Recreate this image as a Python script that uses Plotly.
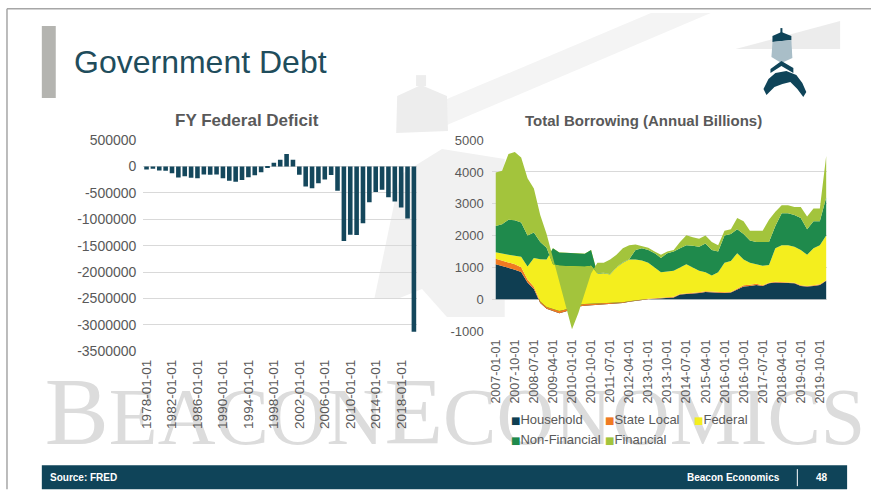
import plotly.graph_objects as go

W, H = 871, 495
# the page is photographed slightly squeezed vertically; compensate placement
Y_SCALE, Y_OFF = 0.9676, 8.9


def px(x):
    return x / W


def py(y):
    return 1 - ((y - Y_OFF) / Y_SCALE) / H


# ---------------- Left chart data: FY Federal Deficit ----------------
years = list(range(1978, 2021))
deficit = [-59185, -40726, -73830, -78968, -127977, -207802, -185367, -212308,
           -221227, -149730, -155178, -152639, -221036, -269238, -290321, -255051,
           -203186, -163952, -107431, -21884, 69270, 125610, 236241, 128236,
           -157758, -377585, -412727, -318346, -248181, -160701, -458553, -1412688,
           -1294373, -1299599, -1076573, -679775, -484602, -441960, -584651, -665446,
           -779137, -983600, -3131900]
left_tickvals = [1978, 1982, 1986, 1990, 1994, 1998, 2002, 2006, 2010, 2014, 2018]
left_ticktext = ["1978-01-01", "1982-01-01", "1986-01-01", "1990-01-01", "1994-01-01",
                 "1998-01-01", "2002-01-01", "2006-01-01", "2010-01-01", "2014-01-01",
                 "2018-01-01"]
left_yvals = [500000, 0, -500000, -1000000, -1500000, -2000000, -2500000, -3000000, -3500000]
left_ytext = ["500000", "0", "-500000", "-1000000", "-1500000", "-2000000", "-2500000",
              "-3000000", "-3500000"]

# ---------------- Right chart data: Total Borrowing ----------------
quarters = ["2007-01-01", "2007-04-01", "2007-07-01", "2007-10-01",
            "2008-01-01", "2008-04-01", "2008-07-01", "2008-10-01",
            "2009-01-01", "2009-04-01", "2009-07-01", "2009-10-01",
            "2010-01-01", "2010-04-01", "2010-07-01", "2010-10-01",
            "2011-01-01", "2011-04-01", "2011-07-01", "2011-10-01",
            "2012-01-01", "2012-04-01", "2012-07-01", "2012-10-01",
            "2013-01-01", "2013-04-01", "2013-07-01", "2013-10-01",
            "2014-01-01", "2014-04-01", "2014-07-01", "2014-10-01",
            "2015-01-01", "2015-04-01", "2015-07-01", "2015-10-01",
            "2016-01-01", "2016-04-01", "2016-07-01", "2016-10-01",
            "2017-01-01", "2017-04-01", "2017-07-01", "2017-10-01",
            "2018-01-01", "2018-04-01", "2018-07-01", "2018-10-01",
            "2019-01-01", "2019-04-01", "2019-07-01", "2019-10-01",
            "2020-01-01"]
household = [1100, 1050, 980, 930, 860, 530, 320, -120, -300, -370, -440, -380, -300,
             -230, -200, -190, -170, -160, -160, -150, -120, -80, -50, -20, 0, 15, 30,
             40, 60, 150, 160, 180, 200, 230, 220, 200, 200, 210, 300, 400, 420, 450,
             420, 500, 530, 520, 520, 500, 420, 400, 420, 450, 580]
state_local = [170, 170, 170, 170, 150, 90, 70, 50, 60, 70, 70, 60, 60, 50, 50, 50, 40,
               40, 30, 30, 30, 20, 20, 20, 20, 20, 20, 20, 20, 20, 20, 20, 20, 20, 20,
               20, 20, 20, 40, 40, 40, 40, 20, 20, 20, 20, 20, 20, 20, 20, 20, 20, 20]
federal = [210, 210, 250, 270, 330, 410, 910, 1330, 1490, 1900, 1840, 1780, 1690, 1620,
           1580, 1690, 930, 940, 910, 1120, 1240, 1310, 1280, 1220, 1130, 965, 800, 810,
           820, 830, 920, 800, 680, 600, 510, 630, 930, 970, 1110, 810, 690, 610, 610,
           560, 1050, 1160, 1160, 1130, 1110, 980, 1160, 1230, 1400]
non_financial = [820, 930, 1100, 1110, 1070, 970, 800, 540, 370, -500, -420, -420, -410,
                 -410, -410, -500, 20, 10, 10, 10, 10, 10, 300, 380, 400, 450, 450, 580,
                 600, 600, 600, 680, 750, 900, 800, 650, 850, 850, 750, 800, 700, 700,
                 750, 720, 700, 1000, 1000, 1000, 1000, 800, 850, 750, 1200]
financial = [1680, 1680, 2060, 2150, 2040, 1800, 1380, 850, 430, 200, -450, -1180,
             -1980, -1460, -830, -240, 330, 320, 460, 390, 440, 440, 170, 80, 70, 50,
             100, 50, 50, 200, 310, 270, 250, 250, 250, 200, 150, 150, 350, 400, 300,
             350, 350, 700, 450, 250, 250, 250, 350, 400, 400, 400, 1300]
right_tickvals = quarters[::3]
right_yvals = [5000, 4000, 3000, 2000, 1000, 0, -1000]
right_ytext = ["5000", "4000", "3000", "2000", "1000", "0", "-1000"]

series_names = ["Household", "State Local", "Federal", "Non-Financial", "Financial"]
series_values = [household, state_local, federal, non_financial, financial]
series_colors = ["#0f3e52", "#f07a22", "#f4ee1e", "#1f8a4c", "#a3c43c"]

FONT = "Liberation Sans"
GRAY = "#595959"
TEAL = "#0f4459"

fig = go.Figure()

fig.add_trace(go.Bar(x=years, y=deficit, marker=dict(color="#14475c", line=dict(width=0)),
                     width=0.72, xaxis="x", yaxis="y", showlegend=False))

for name, vals, col in zip(series_names, series_values, series_colors):
    fig.add_trace(go.Scatter(x=quarters, y=vals, name=name, stackgroup="borrow",
                             mode="lines", line=dict(width=0, color=col),
                             fillcolor=col, xaxis="x2", yaxis="y2", showlegend=False))


def poly(points, color, layer="above"):
    d = "M " + " L ".join("{},{}".format(px(a), py(b)) for a, b in points) + " Z"
    return dict(type="path", xref="paper", yref="paper", path=d, fillcolor=color,
                line=dict(width=0), layer=layer)


shapes = []
# faint background lighthouse watermark
shapes.append(poly([(445, 100), (650, 14), (710, 14), (445, 126)], "#f4f4f4", "below"))
shapes.append(poly([(414, 76), (424, 76), (424, 87), (414, 87)], "#ededed", "below"))
shapes.append(poly([(395, 97), (419, 86), (445, 97), (446, 132), (394, 134)], "#ededed", "below"))
shapes.append(poly([(372, 300), (398, 176), (440, 150), (503, 160), (503, 318), (445, 318),
                    (420, 290), (395, 300)], "#f1f1f1", "below"))
# slide border
shapes.append(dict(type="line", xref="paper", yref="paper", x0=px(3), x1=1, y0=py(9.6), y1=py(9.6),
                   line=dict(color="#a6a6a6", width=1.5), layer="below"))
shapes.append(dict(type="line", xref="paper", yref="paper", x0=px(3), x1=px(3), y0=py(9.6), y1=py(490),
                   line=dict(color="#a6a6a6", width=1.5), layer="below"))
# title bar
shapes.append(dict(type="rect", xref="paper", yref="paper", x0=px(38), x1=px(52), y0=py(99),
                   y1=py(27), fillcolor="#b4b4b0", line=dict(width=0), layer="below"))
# watermark text (small caps look)
shapes.append(dict(type="rect", xref="paper", yref="paper", x0=px(38), x1=px(862), y0=py(472),
                   y1=py(372), fillcolor="rgba(0,0,0,0)", line=dict(width=0), layer="below",
                   label=dict(text="<span style='font-size:96px'>B</span>EACON"
                                   "<span style='font-size:96px'>E</span>CONOMICS",
                              textposition="bottom left", padding=0,
                              font=dict(family="Liberation Serif", size=80, color="#dcdcdc"))))
# logo beam
shapes.append(poly([(735, 50), (840, 22), (840, 50)], "rgba(200,200,200,0.35)", "below"))
# logo
shapes.append(poly([(780, 29), (782, 29), (782, 34), (780, 34)], TEAL))
shapes.append(poly([(772, 37), (781, 33), (791, 37), (791, 41), (772, 43)], TEAL))
shapes.append(poly([(772, 43), (791, 41), (792, 59), (781, 64), (771, 58)], "#a9bec8"))
shapes.append(poly([(770, 70), (781, 62), (793, 69), (793, 74), (781, 67), (770, 74)], TEAL))
shapes.append(poly([(763, 90), (768, 80), (775, 74), (786, 72), (796, 76), (802, 84), (806, 93),
                    (803, 98), (797, 90), (790, 83), (782, 85), (774, 88), (766, 96)], TEAL))
# footer
shapes.append(dict(type="rect", xref="paper", yref="paper", x0=px(38), x1=px(847), y0=py(490),
                   y1=py(466), fillcolor=TEAL, line=dict(width=0), layer="above"))
shapes.append(dict(type="line", xref="paper", yref="paper", x0=px(797), x1=px(797), y0=py(487),
                   y1=py(470), line=dict(color="white", width=1), layer="above"))

annotations = []
annotations.append(dict(x=px(68), y=py(63), xref="paper", yref="paper", xanchor="left",
                        yanchor="middle", text="Government Debt", showarrow=False,
                        font=dict(family=FONT, size=32, color="#1f4d5c")))
annotations.append(dict(x=px(244), y=py(121), xref="paper", yref="paper", xanchor="center",
                        yanchor="middle", text="<b>FY Federal Deficit</b>", showarrow=False,
                        font=dict(family=FONT, size=17, color=GRAY)))
annotations.append(dict(x=px(642), y=py(121), xref="paper", yref="paper", xanchor="center",
                        yanchor="middle", text="<b>Total Borrowing (Annual Billions)</b>",
                        showarrow=False, font=dict(family=FONT, size=15, color=GRAY)))
annotations.append(dict(x=px(44), y=py(478), xref="paper", yref="paper", xanchor="left",
                        yanchor="middle", text="<b>Source: FRED</b>", showarrow=False,
                        font=dict(family=FONT, size=10, color="white")))
annotations.append(dict(x=px(782), y=py(478), xref="paper", yref="paper", xanchor="right",
                        yanchor="middle", text="<b>Beacon Economics</b>", showarrow=False,
                        font=dict(family=FONT, size=10, color="white")))
annotations.append(dict(x=px(822), y=py(478), xref="paper", yref="paper", xanchor="center",
                        yanchor="middle", text="<b>48</b>", showarrow=False,
                        font=dict(family=FONT, size=10, color="white")))

# legend (manual, two rows)
legend_pos = [(507, 420), (602, 420), (691, 420), (507, 440), (602, 440)]
for (lx, ly), name, col in zip(legend_pos, series_names, series_colors):
    annotations.append(dict(x=px(lx), y=py(ly), xref="paper", yref="paper", xanchor="left",
                            yanchor="middle", showarrow=False,
                            text="<span style='color:{};font-family:DejaVu Sans;font-size:10px'>■</span>{}".format(col, name),
                            font=dict(family=FONT, size=13, color=GRAY)))

axis_font = dict(family=FONT, size=14, color=GRAY)

fig.update_layout(
    width=W, height=H,
    margin=dict(l=0, r=0, t=0, b=0),
    paper_bgcolor="white", plot_bgcolor="rgba(0,0,0,0)",
    xaxis=dict(domain=[px(140), px(415)], range=[1977.5, 2020.5], anchor="y",
               tickvals=left_tickvals, ticktext=left_ticktext, tickangle=-90,
               tickfont=dict(family=FONT, size=13.5, color=GRAY), showgrid=False,
               zeroline=False, showline=False, ticks="", ticklabelstandoff=5),
    yaxis=dict(domain=[py(352), py(141)], range=[-3500000, 500000], anchor="x",
               tickvals=left_yvals, ticktext=left_ytext, tickfont=axis_font,
               showgrid=True, gridcolor="#d9d9d9", gridwidth=1, zeroline=False,
               showline=False, ticks="", ticklabelstandoff=6),
    xaxis2=dict(domain=[px(490), px(827)], type="category", range=[-0.63, 52.16], anchor="y2",
                tickvals=right_tickvals, ticktext=right_tickvals, tickangle=-90,
                tickfont=dict(family=FONT, size=12.5, color=GRAY), showgrid=False,
                zeroline=False, showline=False, ticks="", ticklabelstandoff=5),
    yaxis2=dict(domain=[py(332), py(141)], range=[-1000, 5000], anchor="x2",
                tickvals=right_yvals, ticktext=right_ytext,
                tickfont=dict(family=FONT, size=13, color=GRAY),
                showgrid=True, gridcolor="#d9d9d9", gridwidth=1, zeroline=False,
                showline=False, ticks="", ticklabelstandoff=7),
    shapes=shapes,
    annotations=annotations,
    showlegend=False,
)

fig.write_html("out.html")
